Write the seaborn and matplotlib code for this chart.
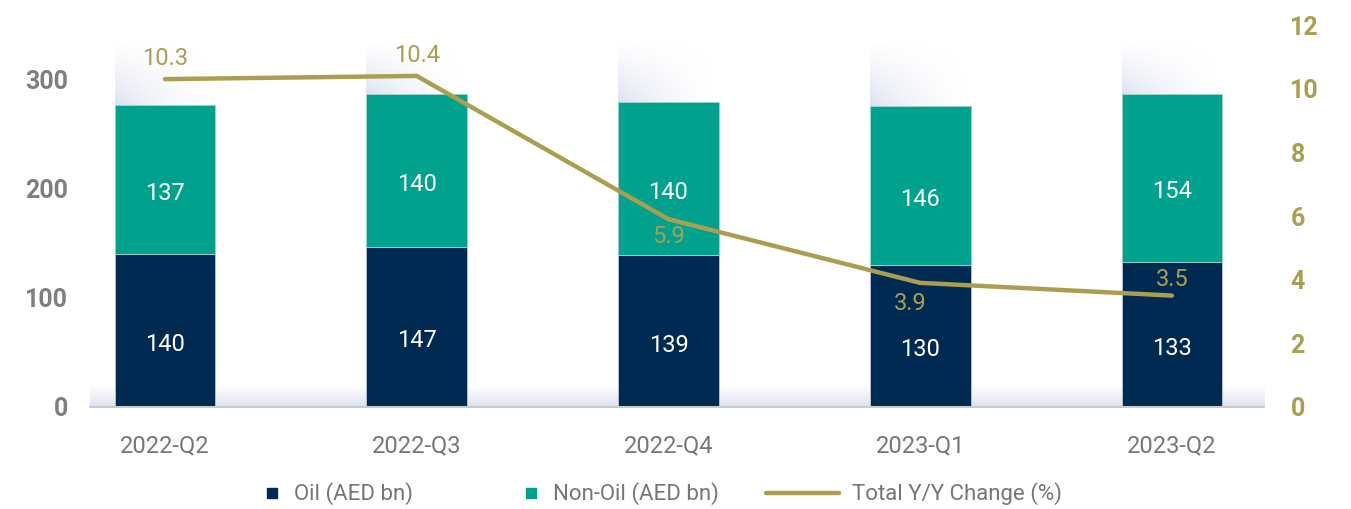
import numpy as np
import pandas as pd
import matplotlib
matplotlib.use("Agg")
import matplotlib.pyplot as plt
from matplotlib.lines import Line2D
import seaborn as sns

# Quarterly GDP data
quarters = ["2022-Q2", "2022-Q3", "2022-Q4", "2023-Q1", "2023-Q2"]
oil = [140, 147, 139, 130, 133]
non_oil = [137, 140, 140, 146, 154]
yoy_change = [10.3, 10.4, 5.9, 3.9, 3.5]

NAVY = "#002a52"
TEAL = "#00a28e"
GOLD = "#aa9f50"
GREY = "#7f7f80"
TEXT_GREY = "#767676"

sns.set_theme(style="white")
plt.rcParams["font.family"] = ["Roboto", "DejaVu Sans"]

df = pd.DataFrame({"quarter": quarters, "oil": oil, "non_oil": non_oil,
                   "yoy": yoy_change})
df["total"] = df["oil"] + df["non_oil"]

fig = plt.figure(figsize=(13.51, 5.09), dpi=100)
ax = fig.add_axes([90 / 1351, 102 / 509, 1174 / 1351, 382 / 509])

bar_w = 0.4
xlim = (-0.298, 4.366)

# soft shading above each bar
ny, nx = 60, 80
yy, xx = np.mgrid[0:1:ny * 1j, 0:1:nx * 1j]
glow = np.clip(1 - xx, 0, 1) ** 1.6 * np.clip(1 - yy, 0, 1) ** 1.2
shade = np.zeros((ny, nx, 4))
shade[..., 0] = 0.80
shade[..., 1] = 0.83
shade[..., 2] = 0.92
shade[..., 3] = 0.65 * glow
for i, t in enumerate(df["total"]):
    x0 = i - bar_w / 2
    ax.imshow(shade, extent=(x0, x0 + bar_w, t, 335), origin="lower",
              aspect="auto", zorder=0.5, interpolation="bilinear")

# soft band along the baseline
band = np.zeros((30, 2, 4))
band[..., 0] = 0.84
band[..., 1] = 0.86
band[..., 2] = 0.93
band[..., 3] = np.linspace(0.8, 0.0, 30)[:, None]
ax.imshow(band, extent=(xlim[0], xlim[1], 0, 20), origin="lower",
          aspect="auto", zorder=0.4, interpolation="bilinear")

sns.barplot(data=df, x="quarter", y="oil", color=NAVY, width=bar_w,
            saturation=1, edgecolor="#b9c3d6", linewidth=0.6, ax=ax, zorder=2)
sns.barplot(data=df, x="quarter", y="non_oil", bottom=df["oil"], color=TEAL,
            width=bar_w, saturation=1, edgecolor="#9fd3cb", linewidth=0.6,
            ax=ax, zorder=2)

ax.set_xlim(*xlim)
ax.set_ylim(0, 350)
ax.set_yticks([0, 100, 200, 300])
ax.set_xlabel("")
ax.set_ylabel("")
for s in ["top", "right", "left"]:
    ax.spines[s].set_visible(False)
ax.spines["bottom"].set_color("#c8cad0")
ax.spines["bottom"].set_linewidth(1.5)
ax.tick_params(axis="y", length=0, pad=16, labelsize=18, labelcolor=GREY)
ax.tick_params(axis="x", length=0, pad=20, labelsize=17, labelcolor=TEXT_GREY)
for lab in ax.get_yticklabels():
    lab.set_fontweight("bold")

# segment values, sitting a little below each segment's middle
for i, (o, n) in enumerate(zip(oil, non_oil)):
    ax.annotate(f"{o}", (i, o / 2), xytext=(0, -10), textcoords="offset points",
                ha="center", va="center", color="white", fontsize=17, zorder=4)
    ax.annotate(f"{n}", (i, o + n / 2), xytext=(0, -10),
                textcoords="offset points", ha="center", va="center",
                color="white", fontsize=17, zorder=4)

# right axis: year-on-year change
ax2 = ax.twinx()
sns.lineplot(x=np.arange(len(quarters)), y=yoy_change, color=GOLD,
             linewidth=3.2, solid_capstyle="round", ax=ax2, zorder=5)
ax2.set_ylim(0, 12)
ax2.set_xlim(*xlim)
ax2.set_yticks(range(0, 13, 2))
for s in ["top", "right", "left", "bottom"]:
    ax2.spines[s].set_visible(False)
ax2.tick_params(axis="y", length=0, pad=19, labelsize=18, labelcolor=GOLD)
for lab in ax2.get_yticklabels():
    lab.set_fontweight("bold")

label_offsets = [(0, 0.65), (0, 0.65), (0, -0.55), (-0.04, -0.65), (0, 0.5)]
for i, (v, (dx, dy)) in enumerate(zip(yoy_change, label_offsets)):
    ax2.text(i + dx, v + dy, f"{v}", ha="center", va="center", color=GOLD,
             fontsize=17, zorder=6)

# legend: one entry per block so each keys its own handle length
entries = [
    (Line2D([], [], marker="s", linestyle="none", markersize=7.5,
            markerfacecolor=NAVY, markeredgecolor=NAVY),
     "Oil (AED bn)", 0.9, 262),
    (Line2D([], [], marker="s", linestyle="none", markersize=7.5,
            markerfacecolor=TEAL, markeredgecolor=TEAL),
     "Non-Oil (AED bn)", 0.9, 521),
    (Line2D([], [], color=GOLD, linewidth=3.2),
     "Total Y/Y Change (%)", 3.3, 766),
]
for handle, text, hlen, x_px in entries:
    leg = fig.legend([handle], [text], loc="center left",
                     bbox_to_anchor=(x_px / 1351, 1 - 494 / 509),
                     frameon=False, borderpad=0, borderaxespad=0,
                     handlelength=hlen, handletextpad=0.55,
                     prop={"size": 16})
    for t in leg.get_texts():
        t.set_color(TEXT_GREY)

fig.savefig("out.png", dpi=100)
